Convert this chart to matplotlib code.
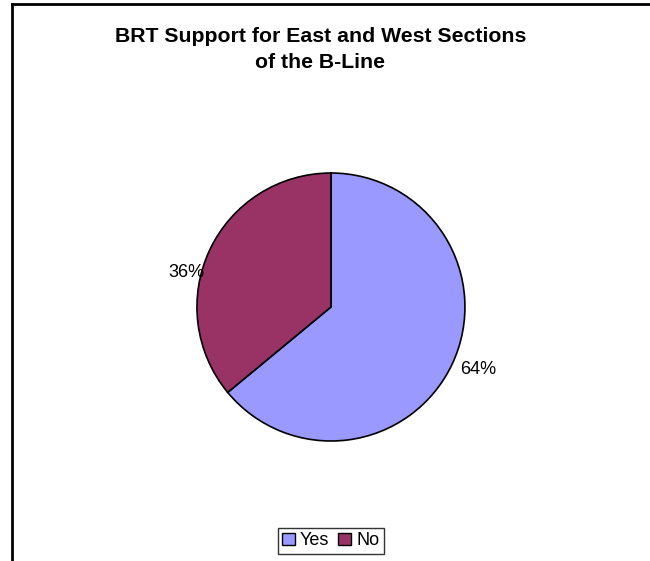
import matplotlib.pyplot as plt
from matplotlib.lines import Line2D

labels = ['Yes', 'No']
values = [64, 36]
colors = ['#9999FF', '#993366']
title = 'BRT Support for East and West Sections\nof the B-Line'

plt.rcParams['font.family'] = ['Liberation Sans', 'DejaVu Sans']

fig = plt.figure(figsize=(6.5, 5.61), dpi=100)
ax = fig.add_axes([0.303, 0.2139, 0.4123, 0.4777])
wedges, texts = ax.pie(values, colors=colors, startangle=90, counterclock=False,
                       radius=1, wedgeprops=dict(edgecolor='black', linewidth=1.2))
ax.set_xlim(-1, 1)
ax.set_ylim(-1, 1)
ax.set_aspect('equal')

# percentage labels, placed like the original
pct_pos = [(1.10, -0.47), (-1.075, 0.26)]
for v, (x, y) in zip(values, pct_pos):
    ax.text(x, y, f'{v}%', ha='center', va='center', fontsize=13, clip_on=False)

fig.text(0.493, 0.912, title, ha='center', va='center', fontsize=15.3,
         fontweight='bold', linespacing=1.42)

leg = fig.legend(wedges, labels, loc='center', bbox_to_anchor=(0.509, 0.036),
                 ncol=2, fontsize=13, frameon=True, fancybox=False,
                 handlelength=0.7, handleheight=0.7, handletextpad=0.3,
                 columnspacing=0.5, borderpad=0.25, borderaxespad=0)
leg.get_frame().set_edgecolor('black')
leg.get_frame().set_linewidth(1.0)
for h in leg.legend_handles:
    h.set_edgecolor('black')
    h.set_linewidth(1.0)

# chart frame (only left and top edges visible)
fig.add_artist(Line2D([12 / 650, 12 / 650], [0, 1 - 4 / 561], color='black', lw=2))
fig.add_artist(Line2D([12 / 650, 1], [1 - 4 / 561, 1 - 4 / 561], color='black', lw=2))

fig.savefig('out.png', dpi=100)
